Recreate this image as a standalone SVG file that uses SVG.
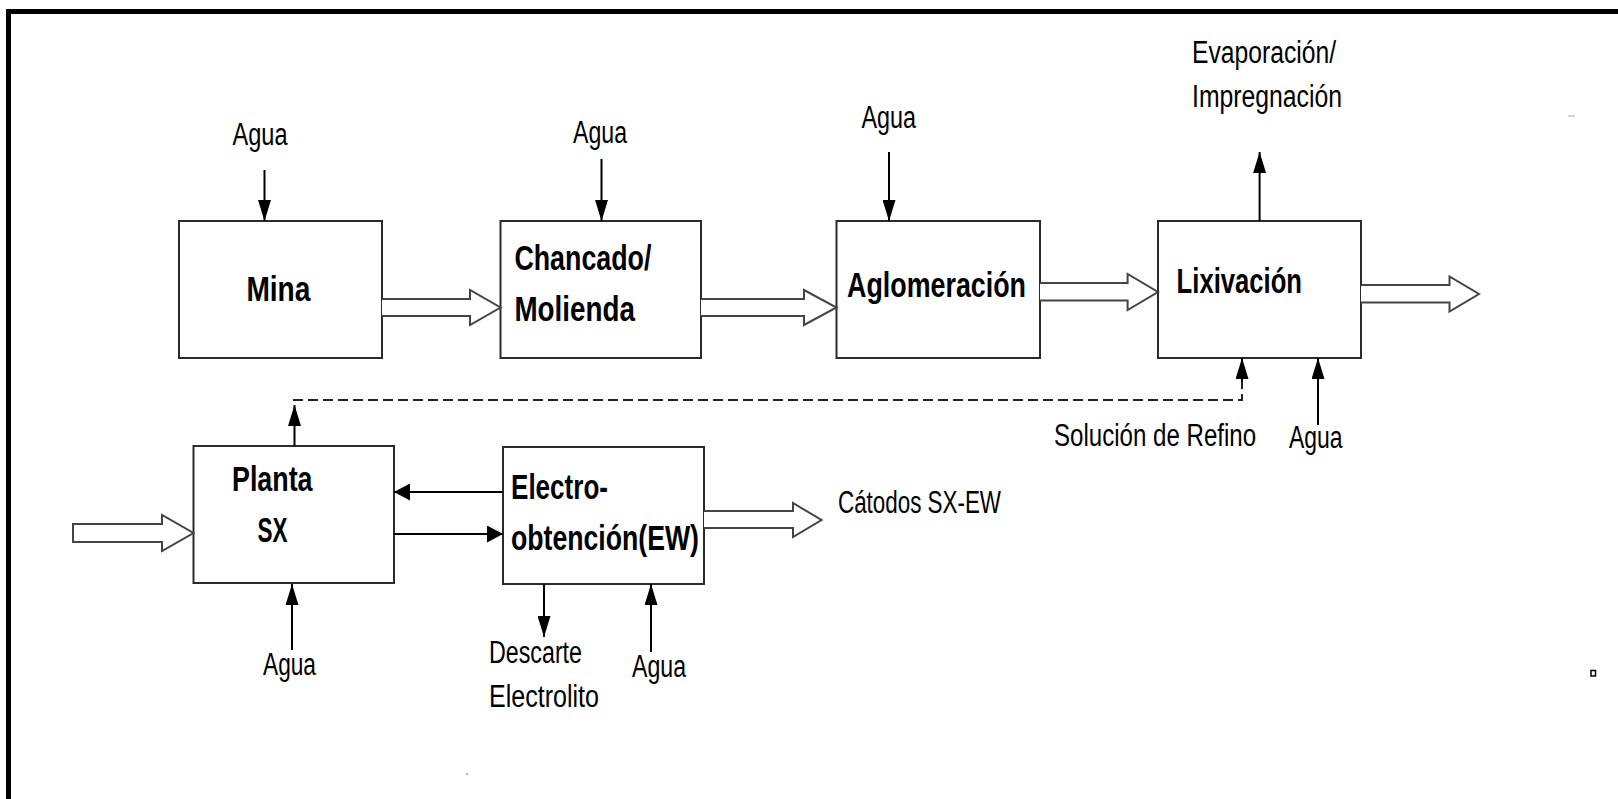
<svg xmlns="http://www.w3.org/2000/svg" width="1618" height="799" viewBox="0 0 1618 799">
<style>
.bg{fill:#fff}
.frame{stroke:#000;stroke-width:5;fill:none}
.box{fill:#fff;stroke:#2b2b2b;stroke-width:2}
.t{font-family:"Liberation Sans",Arial,sans-serif;font-size:31px;fill:#000}
.b{font-family:"Liberation Sans",Arial,sans-serif;font-size:35px;font-weight:bold;fill:#000}
.ln{stroke:#000;stroke-width:2;fill:none}
.dash{stroke:#222;stroke-width:2;fill:none;stroke-dasharray:10 5}
.hollow{fill:#fff;stroke:#444;stroke-width:2;stroke-linejoin:miter}
</style>
<defs>
<marker id="hv" viewBox="0 0 21 13" refX="21" refY="6.5" markerWidth="21" markerHeight="13" orient="auto" markerUnits="userSpaceOnUse"><path d="M0,0L21,6.5L0,13Z" fill="#000"/></marker>
<marker id="hh" viewBox="0 0 16 17" refX="16" refY="8.5" markerWidth="16" markerHeight="17" orient="auto" markerUnits="userSpaceOnUse"><path d="M0,0L16,8.5L0,17Z" fill="#000"/></marker>
</defs>
<rect class="bg" x="0" y="0" width="1618" height="799"/>
<g id="frame">
<line class="frame" x1="6" y1="11.5" x2="1618" y2="11.5"/>
<line class="frame" x1="8.5" y1="9" x2="8.5" y2="799"/>
<line x1="1568" y1="116" x2="1575" y2="116" stroke="#ccc" stroke-width="1.5"/>
<circle cx="467" cy="774" r="1" fill="#999"/>
<rect x="1591" y="670.5" width="4.5" height="5.5" fill="#fff" stroke="#000" stroke-width="1.5"/>
</g>
<g id="mina">
<rect class="box" x="179" y="221" width="203" height="137"/>
<text class="b" x="246.4" y="301" textLength="64" lengthAdjust="spacingAndGlyphs">Mina</text>
</g>
<g id="chancado">
<rect class="box" x="500.5" y="221" width="200.5" height="137"/>
<text class="b" x="514.4" y="269.5" textLength="137" lengthAdjust="spacingAndGlyphs">Chancado/</text>
<text class="b" x="514.4" y="320.5" textLength="120.5" lengthAdjust="spacingAndGlyphs">Molienda</text>
</g>
<g id="aglomeracion">
<rect class="box" x="836.5" y="221" width="203.5" height="137"/>
<text class="b" x="847" y="297" textLength="179" lengthAdjust="spacingAndGlyphs">Aglomeración</text>
</g>
<g id="lixiviacion">
<rect class="box" x="1158" y="221" width="203" height="137"/>
<text class="b" x="1176.6" y="293" textLength="125.4" lengthAdjust="spacingAndGlyphs">Lixivación</text>
</g>
<g id="planta-sx">
<rect class="box" x="193.5" y="446" width="200.5" height="137"/>
<text class="b" x="232" y="491" textLength="80.5" lengthAdjust="spacingAndGlyphs">Planta</text>
<text class="b" x="257.5" y="542" textLength="30" lengthAdjust="spacingAndGlyphs">SX</text>
</g>
<g id="electroobtencion">
<rect class="box" x="503" y="447" width="201" height="137"/>
<text class="b" x="511" y="499" textLength="97" lengthAdjust="spacingAndGlyphs">Electro-</text>
<text class="b" x="511" y="550" textLength="188" lengthAdjust="spacingAndGlyphs">obtención(EW)</text>
</g>
<g id="labels">
<text class="t" x="232.5" y="145" textLength="55" lengthAdjust="spacingAndGlyphs">Agua</text>
<text class="t" x="573" y="143" textLength="54" lengthAdjust="spacingAndGlyphs">Agua</text>
<text class="t" x="861.5" y="128" textLength="54.5" lengthAdjust="spacingAndGlyphs">Agua</text>
<text class="t" x="1192" y="63" textLength="144" lengthAdjust="spacingAndGlyphs">Evaporación/</text>
<text class="t" x="1192" y="107" textLength="150" lengthAdjust="spacingAndGlyphs">Impregnación</text>
<text class="t" transform="translate(1054,446) scale(0.777,1)" x="0" y="0">Solución de Refino</text>
<text class="t" x="1289" y="448" textLength="53.5" lengthAdjust="spacingAndGlyphs">Agua</text>
<text class="t" x="838" y="513" textLength="163" lengthAdjust="spacingAndGlyphs">Cátodos SX-EW</text>
<text class="t" x="263" y="675" textLength="53" lengthAdjust="spacingAndGlyphs">Agua</text>
<text class="t" x="489" y="663" textLength="93" lengthAdjust="spacingAndGlyphs">Descarte</text>
<text class="t" x="489" y="707" textLength="110" lengthAdjust="spacingAndGlyphs">Electrolito</text>
<text class="t" x="632" y="677" textLength="54" lengthAdjust="spacingAndGlyphs">Agua</text>
</g>
<g id="connectors">
<path class="hollow" d="M382,299 H470 V290 L500.5,307.5 L470,325 V316 H382"/>
<path class="hollow" d="M701,299 H804 V290 L836.5,307.5 L804,325 V316 H701"/>
<path class="hollow" d="M1040,283 H1127.6 V274 L1158,292 L1127.6,310 V300.5 H1040"/>
<path class="hollow" d="M1361,285 H1449.5 V276.5 L1479,294 L1449.5,311.5 V302.5 H1361"/>
<path class="hollow" d="M73,524 H162 V515 L193.5,533 L162,551 V542 H73 Z"/>
<path class="hollow" d="M704,511 H793 V503 L821.5,520 L793,537 V528 H704"/>
<path class="ln" d="M264.5,170 V221" marker-end="url(#hv)"/>
<path class="ln" d="M601.5,159 V221" marker-end="url(#hv)"/>
<path class="ln" d="M889,152 V221" marker-end="url(#hv)"/>
<path class="ln" d="M1259.6,221 V152" marker-end="url(#hv)"/>
<path class="dash" d="M293,400 H1242 V382"/>
<path class="ln" d="M1242,382 V358" marker-end="url(#hv)"/>
<path class="ln" d="M1318,425 V358" marker-end="url(#hv)"/>
<path class="ln" d="M294.5,446 V405" marker-end="url(#hv)"/>
<path class="ln" d="M292,650 V584" marker-end="url(#hv)"/>
<path class="ln" d="M544,584 V637" marker-end="url(#hv)"/>
<path class="ln" d="M651,652 V584" marker-end="url(#hv)"/>
<path class="ln" d="M503,492 H394" marker-end="url(#hh)"/>
<path class="ln" d="M394,534 H503" marker-end="url(#hh)"/>
</g>
</svg>
